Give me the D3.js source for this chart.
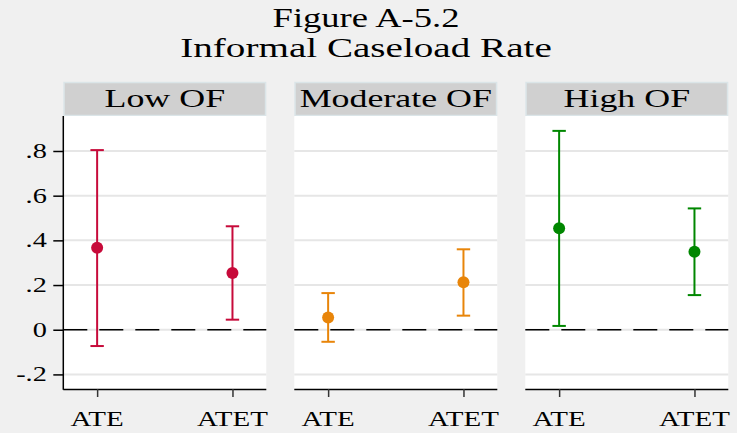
<!DOCTYPE html>
<html><head><meta charset="utf-8">
<script src="https://cdn.jsdelivr.net/npm/d3@7"></script>
<style>
html,body{margin:0;padding:0;background:#f0f0f0;}
svg{display:block;}
text{font-family:"Liberation Serif","Times New Roman",serif;fill:#000;}
</style></head>
<body>
<svg id="chart" width="737" height="433"></svg>
<script>
const titleLines = ["Figure A-5.2", "Informal Caseload Rate"];
const groups = ["Low OF", "Moderate OF", "High OF"];
const estimators = ["ATE", "ATET"];
const colors = ["#c70a3a", "#e8850a", "#008700"];
const ateEst = [0.367, 0.055, 0.454];
const ateLo  = [-0.073, -0.054, 0.017];
const ateHi  = [0.804, 0.164, 0.890];
const atetEst = [0.254, 0.212, 0.349];
const atetLo  = [0.045, 0.063, 0.155];
const atetHi  = [0.463, 0.360, 0.543];
const yTicks = [-0.2, 0, 0.2, 0.4, 0.6, 0.8];
const yTickLabels = ["-.2", "0", ".2", ".4", ".6", ".8"];

const svg = d3.select("#chart");
const SX = 1.38; // horizontal stretch of text

function stext(sel, x, y, str, size, anchor, sx) {
  return sel.append("text")
    .attr("transform", `translate(${x},${y}) scale(${sx || SX},1)`)
    .attr("text-anchor", anchor || "middle")
    .style("font-size", size + "px")
    .text(str);
}

// title
stext(svg, 366, 27, titleLines[0], 26.5);
stext(svg, 366, 57, titleLines[1], 26.5, "middle", SX * 1.07);

const panelX = [63.3, 294.3, 525.3];
const panelW = 203;
const plotTop = 116, plotBottom = 389;
const y = d3.scaleLinear().domain([-0.2653, 0.9566]).range([plotBottom, plotTop]);

const est = estimators.map((e, j) => groups.map((g, i) => ({
  est: j === 0 ? ateEst[i] : atetEst[i],
  lo: j === 0 ? ateLo[i] : atetLo[i],
  hi: j === 0 ? ateHi[i] : atetHi[i],
  name: e
})));

groups.forEach((g, i) => {
  const gp = svg.append("g").attr("transform", `translate(${panelX[i]},0)`);
  const x = d3.scalePoint().domain(estimators).range([0, panelW]).padding(0.25);
  // header
  gp.append("rect").attr("x", 0.75).attr("y", 82.5).attr("width", panelW - 1.5).attr("height", 33)
    .attr("fill", "#d0d0d0").attr("stroke", "#dbe5e8").attr("stroke-width", 1.5);
  stext(gp, panelW / 2, 107, g, 26);
  // plot area
  gp.append("rect").attr("x", 0).attr("y", plotTop).attr("width", panelW).attr("height", plotBottom - plotTop)
    .attr("fill", "#ffffff");
  // grid
  gp.selectAll("line.grid").data(yTicks).join("line").attr("class", "grid")
    .attr("x1", 0).attr("x2", panelW).attr("y1", d => y(d)).attr("y2", d => y(d))
    .attr("stroke", "#e6e6e6").attr("stroke-width", 2);
  // zero line
  gp.append("line").attr("x1", 0).attr("x2", panelW).attr("y1", y(0)).attr("y2", y(0))
    .attr("stroke", "#000").attr("stroke-width", 1.5).attr("stroke-dasharray", "24,12");
  // x axis
  const xAxis = d3.axisBottom(x).tickSize(8).tickFormat("");
  const xa = gp.append("g").attr("transform", `translate(0,${plotBottom})`).call(xAxis);
  xa.select(".domain").attr("stroke", "#000").attr("stroke-width", 1.5).attr("d", `M0,0.5H${panelW}`);
  xa.selectAll(".tick line").attr("stroke", "#333").attr("stroke-width", 1.5);
  estimators.forEach(e => stext(gp, x(e), 426, e, 21));
  // y axis on first panel
  if (i === 0) {
    const yAxis = d3.axisLeft(y).tickValues(yTicks).tickSize(10).tickFormat((d, k) => yTickLabels[k]);
    const ya = gp.append("g").call(yAxis);
    ya.select(".domain").attr("stroke", "#000").attr("stroke-width", 1.5).attr("d", `M0,${plotTop}V${plotBottom + 0.75}`);
    ya.selectAll(".tick line").attr("stroke", "#000").attr("stroke-width", 1.5);
    ya.selectAll(".tick text").remove();
    yTicks.forEach((t, k) => stext(gp, -16.5, y(t) + 7, yTickLabels[k], 20.5, "end"));
  }
  // error bars
  const c = colors[i];
  estimators.forEach((e, j) => {
    const d = est[j][i];
    const cx = x(e);
    gp.append("line").attr("x1", cx).attr("x2", cx).attr("y1", y(d.lo)).attr("y2", y(d.hi))
      .attr("stroke", c).attr("stroke-width", 2);
    [d.lo, d.hi].forEach(v => gp.append("line").attr("x1", cx - 6.7).attr("x2", cx + 6.7)
      .attr("y1", y(v)).attr("y2", y(v)).attr("stroke", c).attr("stroke-width", 2));
    gp.append("circle").attr("cx", cx).attr("cy", y(d.est)).attr("r", 6).attr("fill", c);
  });
});
</script>
</body></html>
